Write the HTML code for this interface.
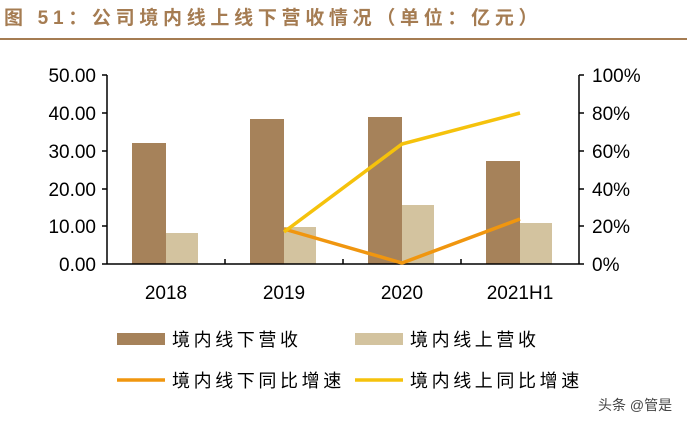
<!DOCTYPE html>
<html><head><meta charset="utf-8"><style>
body{margin:0;background:#fff;width:687px;height:423px;overflow:hidden;font-family:"Liberation Sans","Noto Sans CJK SC",sans-serif}
</style></head><body>
<svg width="687" height="423" xmlns="http://www.w3.org/2000/svg" font-family="Liberation Sans, Noto Sans CJK SC, sans-serif">
<text x="4" y="24" font-size="19" font-weight="bold" fill="#a57c52" letter-spacing="4.7">图 51：公司境内线上线下营收情况（单位：亿元）</text>
<line x1="0" y1="39" x2="687" y2="39" stroke="#a57c52" stroke-width="2"/>
<g fill="#a6825a">
<rect x="132" y="143" width="34" height="121"/><rect x="250" y="119" width="34" height="145"/>
<rect x="368" y="117" width="34" height="147"/><rect x="486" y="161" width="34" height="103"/>
</g>
<g fill="#d3c39f">
<rect x="166" y="233" width="32" height="31"/><rect x="284" y="227" width="32" height="37"/>
<rect x="402" y="205" width="32" height="59"/><rect x="520" y="223" width="32" height="41"/>
</g>
<g stroke="#000" stroke-width="1.5" fill="none">
<line x1="107" y1="75" x2="107" y2="264"/><line x1="579" y1="75" x2="579" y2="264"/>
<line x1="107" y1="264" x2="579" y2="264"/>
<path d="M102 75H107M102 113H107M102 151H107M102 189H107M102 226H107M102 264H107"/>
<path d="M579 75H584M579 113H584M579 151H584M579 189H584M579 226H584M579 264H584"/>
<path d="M225 264V259M343 264V259M461 264V259"/>
</g>
<polyline points="284,229 402,263 520,219" fill="none" stroke="#f0960f" stroke-width="3.5"/>
<polyline points="284,232 402,144 520,113" fill="none" stroke="#f5c20c" stroke-width="3.5"/>
<g font-size="19" fill="#000" text-anchor="end">
<text x="96" y="82">50.00</text><text x="96" y="120">40.00</text><text x="96" y="158">30.00</text>
<text x="96" y="196">20.00</text><text x="96" y="233">10.00</text><text x="96" y="271">0.00</text>
</g>
<g font-size="19" fill="#000">
<text x="592" y="82">100%</text><text x="592" y="120">80%</text><text x="592" y="158">60%</text>
<text x="592" y="196">40%</text><text x="592" y="233">20%</text><text x="592" y="271">0%</text>
</g>
<g font-size="19" fill="#000" text-anchor="middle">
<text x="166" y="299">2018</text><text x="284" y="299">2019</text><text x="402" y="299">2020</text><text x="520" y="299">2021H1</text>
</g>
<rect x="117" y="333" width="48" height="12" fill="#a6825a"/>
<rect x="355" y="333" width="48" height="12" fill="#d3c39f"/>
<line x1="117" y1="380" x2="165" y2="380" stroke="#f0960f" stroke-width="3.5"/>
<line x1="355" y1="380" x2="403" y2="380" stroke="#f5c20c" stroke-width="3.5"/>
<g font-size="18" fill="#000" letter-spacing="3.6">
<text x="172" y="346">境内线下营收</text><text x="410" y="346">境内线上营收</text>
<text x="172" y="387">境内线下同比增速</text><text x="410" y="387">境内线上同比增速</text>
</g>
<text x="598" y="410" font-size="14" fill="#444">头条 @管是</text>
</svg>
</body></html>
